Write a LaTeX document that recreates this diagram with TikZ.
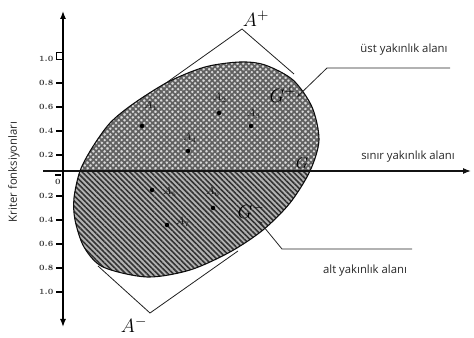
\documentclass[tikz,border=0pt]{standalone}
\usepackage{fontspec}
\newfontfamily\notefont{Open Sans}
\usetikzlibrary{patterns.meta,arrows.meta}
\begin{document}
\begin{tikzpicture}[x=0.75pt,y=0.75pt,
  axis/.style={line width=1pt, black},
  tickmark/.style={line width=0.8pt, black},
  ticklabel/.style={font=\fontsize{6}{7}\selectfont\bfseries, anchor=east, inner sep=1pt, text=black!80},
  boxline/.style={line width=0.6pt, gray!25!black},
  dot/.style={circle, fill=black, inner sep=0pt, minimum size=3.4pt},
  ptlabel/.style={font=\fontsize{8}{9}\selectfont, text=gray!15!black, inner sep=0pt},
  biglabel/.style={font=\fontsize{15}{16}\selectfont, inner sep=0pt},
  note/.style={font=\notefont\fontsize{8.5}{10}\selectfont, text=black!85, inner sep=0pt},
  leader/.style={line width=0.6pt, black!85, -{Stealth[length=3pt,width=2.5pt]}}
]
\useasboundingbox (0,0) rectangle (474,338);

% corners of the enclosing box and ends of its visible sides
\coordinate (Aplus) at (242,309);
\coordinate (AplusL) at (128,228);
\coordinate (AplusR) at (294,264);
\coordinate (Aminus) at (150,25);
\coordinate (AminusL) at (98,72);
\coordinate (AminusR) at (238,87);
\draw[boxline] (AplusL) -- (Aplus) -- (AplusR);
\draw[boxline] (AminusL) -- (Aminus) -- (AminusR);

% region shape
\path[save path=\blob] plot[smooth cycle] coordinates {
  (240,276) (265,273) (293,258) (312,231) (319,198) (310,167) (290,135)
  (263,108) (230,86) (190,68) (147,61) (103,71) (84,91) (75,118) (74,140)
  (80,167) (92,190) (110,215) (133,234) (168,256) (205,271)};

\begin{scope}
  \clip (0,167) rectangle (474,338);
  \fill[use path=\blob, gray!30];
  \fill[use path=\blob, pattern={Hatch[angle=45,distance=3pt,line width=1.3pt]}, pattern color=gray!75!black];
\end{scope}
\begin{scope}
  \clip (0,0) rectangle (474,167);
  \fill[use path=\blob, gray!60];
  \fill[use path=\blob, pattern={Lines[angle=-45,distance=2.8pt,line width=1.2pt]}, pattern color=gray!40!black];
\end{scope}
\draw[use path=\blob, line width=0.8pt, gray!10!black];

% axes
\coordinate (hL) at (43,167);
\coordinate (hR) at (471,167);
\coordinate (vT) at (63,327);
\coordinate (vB) at (63,11);
\draw[line width=0.9pt, gray!15!black, -{Latex[length=6pt,width=4.5pt]}] (hL) -- (hR);
\draw[axis, {Latex[length=6pt,width=4.5pt]}-{Latex[length=6pt,width=4.5pt]}] (vB) -- (vT);

% ticks upper
\draw[line width=0.6pt] (56,279) rectangle (62.5,286);
\node[ticklabel] (u10) at (55,279) {1.0};
\foreach \v/\y in {0.8/255,0.6/231,0.4/207,0.2/183}{
  \draw[tickmark] (56,\y) -- (63,\y);
  \node[ticklabel] (u\y) at (55,\y) {\v};
}
% zero
\draw[tickmark] (55,163) -- (61,163);
\node[ticklabel, anchor=center] (zero) at (58,156) {0};
% ticks lower
\foreach \v/\y in {0.2/142,0.4/118,0.6/94,0.8/70,1.0/46}{
  \draw[tickmark] (56,\y) -- (63,\y);
  \node[ticklabel] (l\y) at (55,\y) {\v};
}

% axis title
\node[note, rotate=90] (ytitle) at (14,166) {Kriter fonksiyonları};

% points
\node[dot] (p1) at (142,212) {};
\node[dot] (p2) at (219,225) {};
\node[dot] (p3) at (251,212) {};
\node[dot] (p4) at (188,187) {};
\node[dot] (p5) at (152,148) {};
\node[dot] (p6) at (213,130) {};
\node[dot] (p7) at (167,113) {};
\node[ptlabel] (a1) at (151,232) {$A_{\scriptscriptstyle 1}$};
\node[ptlabel] (a2) at (220,240) {$A_{\scriptscriptstyle 2}$};
\node[ptlabel] (a3) at (254,224) {$A_{\scriptscriptstyle 3}$};
\node[ptlabel] (a4) at (190,200) {$A_{\scriptscriptstyle 4}$};
\node[ptlabel] (a5) at (170,146) {$A_{\scriptscriptstyle 5}$};
\node[ptlabel] (a6) at (213,146) {$A_{\scriptscriptstyle 6}$};
\node[ptlabel] (a7) at (183,116) {$A_{\scriptscriptstyle 7}$};

% big labels
\node[biglabel] (Ap) at (256,319) {$A^{+}$};
\node[biglabel] (Am) at (134,13) {$A^{-}$};
\node[biglabel] (Gp) at (283,243) {$G^{+}$};
\node[biglabel] (Gm) at (251,127) {$G^{-}$};
\node[font=\fontsize{12}{13}\selectfont, inner sep=0pt] (G) at (302,175) {$G$};

% annotations
\node[note] (ust) at (404,288) {üst yakınlık alanı};
\node[note] (sinir) at (408,181) {sınır yakınlık alanı};
\node[note] (alt) at (365,67) {alt yakınlık alanı};

\coordinate (ustEnd) at (450,270);
\coordinate (ustKnee) at (327,270);
\coordinate (ustTip) at (297,241);
\draw[leader] (ustEnd) -- (ustKnee) -- (ustTip);
\coordinate (altEnd) at (412,89);
\coordinate (altKnee) at (282,89);
\coordinate (altTip) at (259,117);
\draw[leader] (altEnd) -- (altKnee) -- (altTip);
\end{tikzpicture}
\end{document}
